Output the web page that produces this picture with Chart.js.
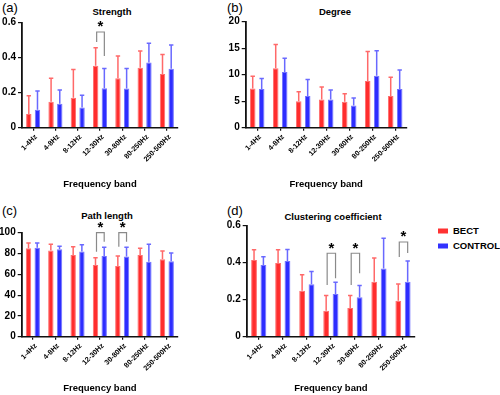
<!DOCTYPE html>
<html><head><meta charset="utf-8">
<script src="https://cdn.jsdelivr.net/npm/chart.js@4"></script>
<style>
html,body{margin:0;padding:0;background:#fff;}
body{width:500px;height:395px;position:relative;overflow:hidden;font-family:"Liberation Sans",Arial,sans-serif;}
canvas{position:absolute;}
.t{position:absolute;white-space:nowrap;transform:translate(-50%,-50%);font-weight:bold;font-size:9.5px;color:#000;line-height:1;}
.p{position:absolute;white-space:nowrap;transform:translateY(-50%);font-size:13px;color:#000;line-height:1;}
.lg{position:absolute;white-space:nowrap;font-weight:bold;font-size:9.5px;transform:translateY(-50%);line-height:1;color:#000;}
.sw{position:absolute;width:10px;height:5px;transform:translateY(-50%);}
</style></head><body>
<div class="p" style="left:2px;top:7px">(a)</div>
<div class="t" style="left:112px;top:12px">Strength</div>
<div class="p" style="left:227px;top:7px">(b)</div>
<div class="t" style="left:335px;top:12px">Degree</div>
<div class="p" style="left:2px;top:210px">(c)</div>
<div class="t" style="left:107px;top:216px">Path length</div>
<div class="p" style="left:227px;top:210px">(d)</div>
<div class="t" style="left:333px;top:217px">Clustering coefficient</div>
<div class="sw" style="left:438px;top:231px;background:rgb(255,50,50)"></div>
<div class="lg" style="left:453px;top:231px">BECT</div>
<div class="sw" style="left:438px;top:246px;background:rgb(50,50,255)"></div>
<div class="lg" style="left:453px;top:246px">CONTROL</div>
<script>
const categories = ['1-4Hz','4-8Hz','8-12Hz','12-30Hz','30-80Hz','80-250Hz','250-500Hz'];
const groupNames = ['BECT','CONTROL'];

// Strength
const strengthBECT     = [0.078, 0.149, 0.171, 0.354, 0.282, 0.343, 0.307];
const strengthBECTTop  = [0.183, 0.282, 0.333, 0.457, 0.410, 0.438, 0.419];
const strengthCTRL     = [0.102, 0.137, 0.116, 0.226, 0.224, 0.373, 0.337];
const strengthCTRLTop  = [0.210, 0.215, 0.186, 0.339, 0.339, 0.482, 0.472];
// Degree
const degreeBECT       = [7.4, 11.2, 5.0, 5.3, 4.9, 8.8, 6.0];
const degreeBECTTop    = [9.7, 15.7, 6.8, 7.7, 6.4, 14.4, 9.5];
const degreeCTRL       = [7.3, 10.5, 6.0, 5.3, 4.2, 9.8, 7.3];
const degreeCTRLTop    = [9.3, 13.1, 9.1, 7.1, 5.6, 14.5, 10.9];
// Path length
const pathBECT         = [85, 83, 78.5, 69, 68, 78.5, 74.5];
const pathBECTTop      = [90, 89, 86.5, 76, 77.5, 85, 82.5];
const pathCTRL         = [85.5, 84, 82, 77.5, 77, 72, 72.5];
const pathCTRLTop      = [90, 87, 88.5, 86, 86, 89, 80.5];
// Clustering coefficient
const clusterBECT      = [0.414, 0.398, 0.249, 0.140, 0.155, 0.297, 0.195];
const clusterBECTTop   = [0.470, 0.470, 0.335, 0.223, 0.223, 0.425, 0.285];
const clusterCTRL      = [0.387, 0.409, 0.283, 0.231, 0.213, 0.368, 0.297];
const clusterCTRLTop   = [0.432, 0.472, 0.353, 0.294, 0.277, 0.532, 0.409];

// y-axis ticks: min, max, step
const strengthTicks = [0, 0.6, 0.2];
const degreeTicks   = [0, 20, 5];
const pathTicks     = [0, 100, 20];
const clusterTicks  = [0, 0.6, 0.2];

// significance brackets: category index, bracket top, left leg end, right leg end (data units)
const sigStrength = [[3, 0.547, 0.49, 0.41]];
const sigDegree   = [];
const sigPath     = [[3, 100, 81.7, 91.3], [4, 100, 86.5, 91.3]];
const sigCluster  = [[3, 0.451, 0.279, 0.316], [4, 0.451, 0.279, 0.343], [6, 0.512, 0.431, 0.452]];

Chart.defaults.font.family = '"Liberation Sans", Arial, sans-serif';
Chart.defaults.font.weight = 'bold';
Chart.defaults.color = '#000';

const RED = 'rgb(255,45,45)', RED_B = 'rgb(255,110,110)', RED_E = 'rgb(255,105,105)';
const BLUE = 'rgb(45,45,255)', BLUE_B = 'rgb(115,115,255)', BLUE_E = 'rgb(105,105,255)';

const errorBars = {
  id: 'errorBars',
  afterDatasetsDraw(chart) {
    const ctx = chart.ctx, ys = chart.scales.y;
    chart.data.datasets.forEach((ds, i) => {
      const meta = chart.getDatasetMeta(i);
      ctx.save();
      ctx.strokeStyle = ds.errColor;
      ctx.lineWidth = 1.5;
      meta.data.forEach((el, j) => {
        const yt = ys.getPixelForValue(ds.errTop[j]);
        ctx.beginPath();
        ctx.moveTo(el.x, el.y);
        ctx.lineTo(el.x, yt);
        ctx.moveTo(el.x - 2.2, yt);
        ctx.lineTo(el.x + 2.2, yt);
        ctx.stroke();
      });
      ctx.restore();
    });
  }
};

const brackets = {
  id: 'brackets',
  afterDraw(chart) {
    const items = chart.config.options.sig || [];
    const ctx = chart.ctx, ys = chart.scales.y;
    const m0 = chart.getDatasetMeta(0), m1 = chart.getDatasetMeta(1);
    items.forEach(([idx, top, l, r]) => {
      const xl = m0.data[idx].x + 1, xr = m1.data[idx].x;
      const yt = ys.getPixelForValue(top);
      ctx.save();
      ctx.strokeStyle = '#8a8a8a';
      ctx.lineWidth = 1.2;
      ctx.beginPath();
      ctx.moveTo(xl, ys.getPixelForValue(l));
      ctx.lineTo(xl, yt);
      ctx.lineTo(xr, yt);
      ctx.lineTo(xr, ys.getPixelForValue(r));
      ctx.stroke();
      ctx.fillStyle = '#000';
      ctx.font = 'bold 15px "Liberation Sans", Arial, sans-serif';
      ctx.textAlign = 'center';
      ctx.textBaseline = 'alphabetic';
      ctx.fillText('*', (xl + xr) / 2, yt - 0.5);
      ctx.restore();
    });
  }
};

function makePanel(p) {
  const cv = document.createElement('canvas');
  cv.width = p.w; cv.height = p.h;
  cv.style.left = p.left + 'px'; cv.style.top = p.top + 'px';
  cv.style.width = p.w + 'px'; cv.style.height = p.h + 'px';
  document.body.appendChild(cv);
  new Chart(cv, {
    type: 'bar',
    data: {
      labels: categories,
      datasets: [
        {label: groupNames[0], data: p.a, errTop: p.aTop, errColor: RED_E,
         backgroundColor: RED, borderColor: RED_B, borderWidth: 1},
        {label: groupNames[1], data: p.b, errTop: p.bTop, errColor: BLUE_E,
         backgroundColor: BLUE, borderColor: BLUE_B, borderWidth: 1}
      ]
    },
    options: {
      sig: p.sig,
      responsive: false,
      devicePixelRatio: 1,
      animation: false,
      layout: {padding: {top: p.padTop, right: p.padRight, left: 0, bottom: 0}},
      datasets: {bar: {categoryPercentage: 0.78, barPercentage: 0.62}},
      plugins: {legend: {display: false}, title: {display: false}, tooltip: {enabled: false}},
      scales: {
        x: {
          offset: true,
          grid: {display: true, drawOnChartArea: false, drawTicks: true, tickLength: 3, offset: false, color: '#111', lineWidth: 1.2},
          border: {display: true, color: '#111', width: 1.6},
          ticks: {autoSkip: false, maxRotation: 45, minRotation: 45, padding: 2, labelOffset: 3, font: {size: 7.2, weight: 'bold'}, color: '#000'},
          title: {display: true, text: 'Frequency band', font: {size: 9.5, weight: 'bold'}, color: '#000', padding: {top: 0, bottom: p.titlePad}},
          afterFit(s) { s.height = p.xH; }
        },
        y: {
          min: p.ticks[0], max: p.ticks[1],
          grid: {display: true, drawOnChartArea: false, drawTicks: true, tickLength: 4, color: '#111', lineWidth: 1.2},
          border: {display: true, color: '#111', width: 1.8},
          ticks: {stepSize: p.ticks[2], padding: 2, font: {size: 10, weight: 'bold'}, color: '#000'},
          afterFit(s) { s.width = p.yW; }
        }
      }
    },
    plugins: [errorBars, brackets]
  });
}

makePanel({left: 0, top: 0, w: 224, h: 195, yW: 22, padTop: 22.7, padRight: 46, xH: 67.3, titlePad: 5,
  a: strengthBECT, aTop: strengthBECTTop, b: strengthCTRL, bTop: strengthCTRLTop, ticks: strengthTicks, sig: sigStrength});
makePanel({left: 222, top: 0, w: 200, h: 195, yW: 23.7, padTop: 21.7, padRight: 15.3, xH: 67.3, titlePad: 5,
  a: degreeBECT, aTop: degreeBECTTop, b: degreeCTRL, bTop: degreeCTRLTop, ticks: degreeTicks, sig: sigDegree});
makePanel({left: 0, top: 197, w: 224, h: 198, yW: 21.7, padTop: 35.7, padRight: 46, xH: 58.3, titlePad: 1,
  a: pathBECT, aTop: pathBECTTop, b: pathCTRL, bTop: pathCTRLTop, ticks: pathTicks, sig: sigPath});
makePanel({left: 222, top: 197, w: 200, h: 198, yW: 24.7, padTop: 28.7, padRight: 7, xH: 58.3, titlePad: 1,
  a: clusterBECT, aTop: clusterBECTTop, b: clusterCTRL, bTop: clusterCTRLTop, ticks: clusterTicks, sig: sigCluster});
</script>
</body></html>
